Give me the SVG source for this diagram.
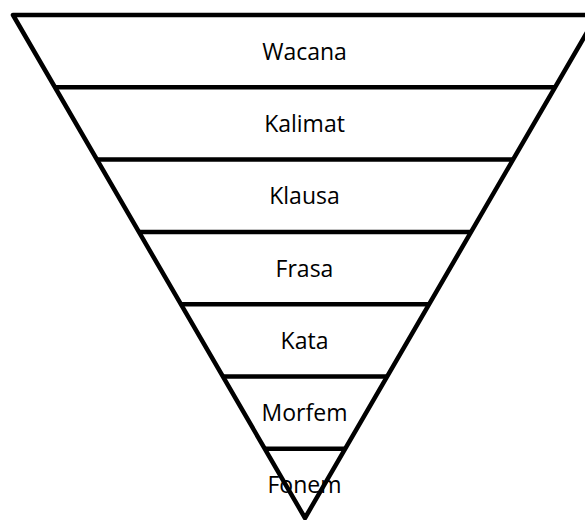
<svg xmlns="http://www.w3.org/2000/svg" width="585" height="520" viewBox="0 0 585 520">
<style>
.edge{fill:none;stroke:#000;stroke-width:4.5;stroke-linejoin:round;stroke-linecap:round}
.sep{stroke:#000;stroke-width:4.5}
.lbl{font-family:"Open Sans","Liberation Sans",sans-serif;font-size:23px;fill:#000;text-anchor:middle}
</style>
<rect width="585" height="520" fill="#fff"/>
<g id="connectors">
<polygon class="edge" points="13,15 597,15 305,518"/>
<line class="sep" x1="55" y1="87.3" x2="555" y2="87.3"/>
<line class="sep" x1="96.9" y1="159.6" x2="513.1" y2="159.6"/>
<line class="sep" x1="138.9" y1="231.9" x2="471.1" y2="231.9"/>
<line class="sep" x1="180.9" y1="304.2" x2="429.1" y2="304.2"/>
<line class="sep" x1="222.9" y1="376.5" x2="387.1" y2="376.5"/>
<line class="sep" x1="264.8" y1="448.8" x2="345.2" y2="448.8"/>
</g>
<g id="wacana"><text class="lbl" x="304.5" y="59.5">Wacana</text></g>
<g id="kalimat"><text class="lbl" x="304.5" y="132">Kalimat</text></g>
<g id="klausa"><text class="lbl" x="304.5" y="204">Klausa</text></g>
<g id="frasa"><text class="lbl" x="304.5" y="276.5">Frasa</text></g>
<g id="kata"><text class="lbl" x="304.5" y="348.5">Kata</text></g>
<g id="morfem"><text class="lbl" x="304.5" y="421">Morfem</text></g>
<g id="fonem"><text class="lbl" x="304.5" y="493">Fonem</text></g>
</svg>
